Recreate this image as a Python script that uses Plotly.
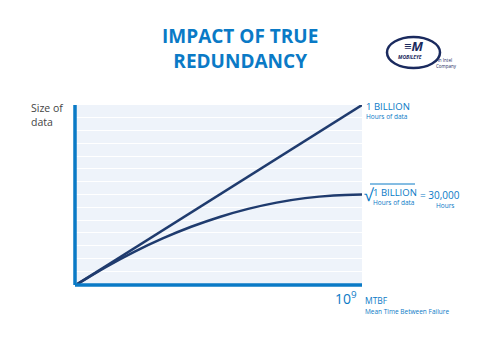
import plotly.graph_objects as go

# Data (normalized: MTBF 0..1 of 10^9 hours, size of data 0..1)
mtbf = [0.0, 0.1, 0.2, 0.3, 0.4, 0.5, 0.6, 0.7, 0.8, 0.9, 1.0]
linear_size = [0.0, 0.1, 0.2, 0.3, 0.4, 0.5, 0.6, 0.7, 0.8, 0.9, 1.0]
redundant_size = [0.0, 0.095, 0.18, 0.255, 0.32, 0.375, 0.42, 0.455, 0.48, 0.495, 0.5]

BLUE = "#0a7ac6"
NAVY = "#1f3b6e"
GRAY = "#444444"

fig = go.Figure()
fig.add_trace(go.Scatter(x=mtbf, y=linear_size, mode="lines",
                         line=dict(color=NAVY, width=2.5), hoverinfo="skip"))
fig.add_trace(go.Scatter(x=mtbf, y=redundant_size, mode="lines", line_shape="spline",
                         line=dict(color=NAVY, width=2.5), hoverinfo="skip"))

x0, x1 = 75 / 480, 362 / 480
y0, y1 = 1 - 285 / 340, 1 - 105 / 340

fig.update_layout(
    width=480, height=340,
    margin=dict(l=0, r=0, t=0, b=0),
    paper_bgcolor="white",
    plot_bgcolor="#eef3fa",
    showlegend=False,
    font=dict(family="Open Sans", color=BLUE),
    xaxis=dict(domain=[x0, x1], range=[-0.008, 1.0], showgrid=False, zeroline=False,
               showticklabels=False, ticks="", fixedrange=True),
    yaxis=dict(domain=[y0, y1], range=[-0.005, 1.0], dtick=1 / 14, showgrid=True,
               gridcolor="white", gridwidth=1, zeroline=False,
               showticklabels=False, ticks="", fixedrange=True),
)

# axes lines
fig.add_shape(type="line", xref="paper", yref="paper", x0=x0, x1=x0, y0=y0, y1=y1,
              line=dict(color=BLUE, width=3.5))
fig.add_shape(type="line", xref="paper", yref="paper", x0=x0, x1=x1, y0=y0, y1=y0,
              line=dict(color=BLUE, width=3.5))

def px(x, y):
    return x / 480, 1 - y / 340

def txt(x, y, text, size, color=BLUE, xanchor="left", yanchor="middle", family="Open Sans", align="left"):
    ax, ay = px(x, y)
    fig.add_annotation(x=ax, y=ay, xref="paper", yref="paper", text=text, showarrow=False,
                       xanchor=xanchor, yanchor=yanchor, align=align,
                       font=dict(size=size, color=color, family=family))

# Title
txt(240, 49, "<b>IMPACT OF TRUE<br>REDUNDANCY</b>", 19, xanchor="center", align="center")

# Y label
txt(29, 115, "Size of<br>data", 10.5, color=GRAY)

# Linear label
txt(364, 106, "1 BILLION", 9.5)
txt(364, 116, "Hours of data", 6.5)

# Sqrt label
txt(362, 194, "√", 17, color=BLUE)
fig.add_shape(type="line", xref="paper", yref="paper",
              x0=px(370, 0)[0], x1=px(415, 0)[0], y0=px(0, 184)[1], y1=px(0, 184)[1],
              line=dict(color=BLUE, width=1))
txt(371, 192, "1 BILLION", 9.5)
txt(371, 202, "Hours of data", 6.5)
txt(418, 195, "= 30,000", 10)
txt(445, 205, "Hours", 6.5, xanchor="center")

# X label
txt(333, 298, "10<sup>9</sup>", 14)
txt(363, 300, "MTBF", 8.5)
txt(363, 311, "Mean Time Between Failure", 6.5)

# Logo approximation
fig.add_shape(type="circle", xref="paper", yref="paper",
              x0=px(387, 0)[0], x1=px(440, 0)[0], y0=px(0, 68)[1], y1=px(0, 37)[1],
              line=dict(color="#1a2a5e", width=2.5), fillcolor="rgba(0,0,0,0)")
txt(413, 46, "<b><i>≡M</i></b>", 13, color="#1a2a5e", xanchor="center")
txt(410, 57, "<b><i>MOBILEYE</i></b>", 5, color="#1a2a5e", xanchor="center")
txt(434, 63, "An Intel<br>Company", 4.5, color="#1a2a5e")

fig.write_html("out.html")
